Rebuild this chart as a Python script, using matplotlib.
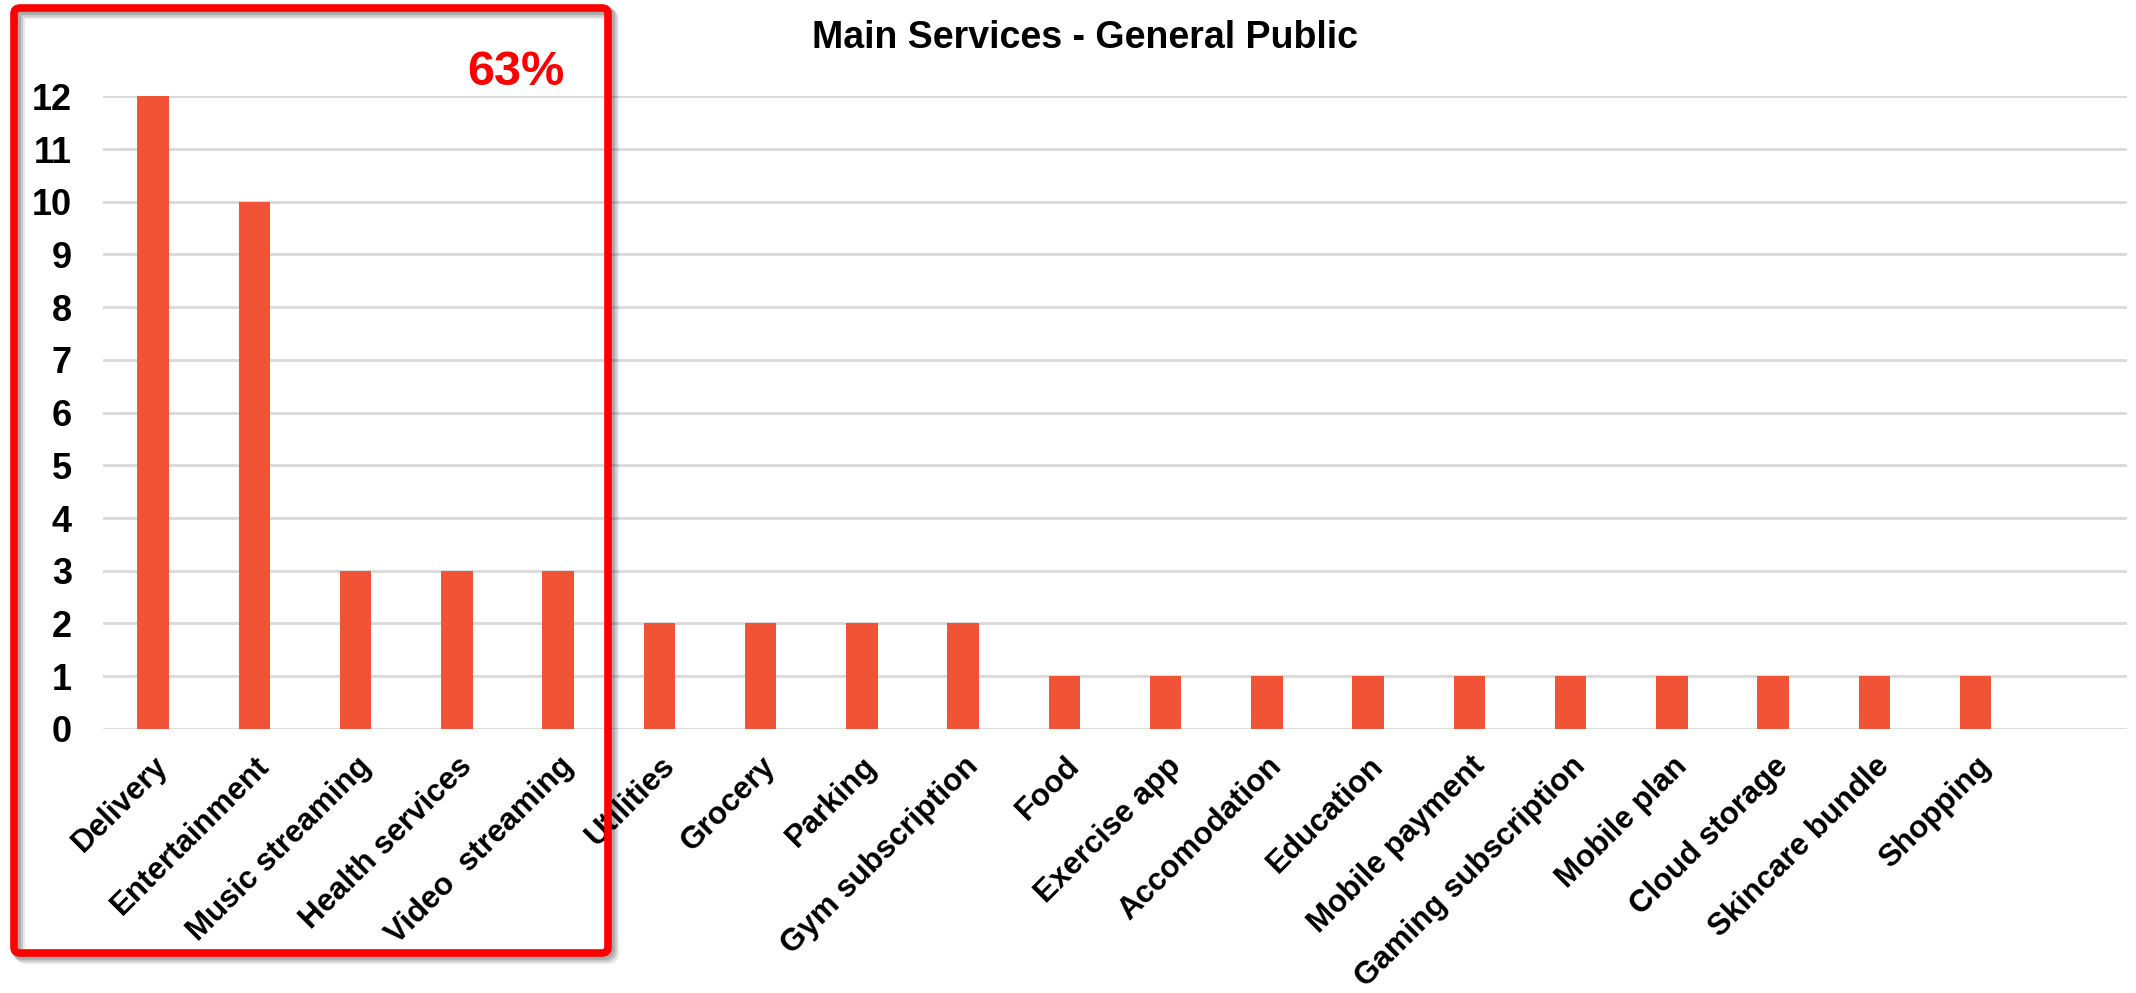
import matplotlib.pyplot as plt
from matplotlib.patches import FancyBboxPatch
from matplotlib.transforms import ScaledTranslation

categories = ["Delivery", "Entertainment", "Music streaming", "Health services",
              "Video  streaming", "Utilities", "Grocery", "Parking",
              "Gym subscription", "Food", "Exercise app", "Accomodation",
              "Education", "Mobile payment", "Gaming subscription", "Mobile plan",
              "Cloud storage", "Skincare bundle", "Shopping"]
counts = [12, 10, 3, 3, 3, 2, 2, 2, 2, 1, 1, 1, 1, 1, 1, 1, 1, 1, 1]
yticks = list(range(0, 13))
title = "Main Services - General Public"
highlight = "63%"

plt.rcParams['font.family'] = ['Liberation Sans', 'DejaVu Sans']

fig = plt.figure(figsize=(21.36, 9.93), dpi=100)
ax = fig.add_axes([0.048, 0.266, 0.948, 0.637])

x = range(len(categories))
ax.bar(x, counts, width=0.31, color="#F05336", zorder=3)

ax.set_xlim(-0.5, len(categories) + 0.5)
ax.set_ylim(0, 12)
ax.set_yticks(yticks)
ax.set_yticklabels([str(t) for t in yticks], fontsize=26, fontweight="bold")
ax.set_xticks(list(x))
ax.set_xticklabels(categories, rotation=45, ha="right", rotation_mode="anchor",
                   fontsize=22.5, fontweight="bold")
# nudge the slanted labels a little to the left
shift = ScaledTranslation(-6 / 100, 0, fig.dpi_scale_trans)
for lbl in ax.get_xticklabels():
    lbl.set_transform(lbl.get_transform() + shift)
ax.tick_params(axis="both", length=0)
ax.tick_params(axis="y", pad=22)
ax.tick_params(axis="x", pad=16)
ax.grid(axis="y", color="#D9D9D9", linewidth=2, zorder=0)
for s in ax.spines.values():
    s.set_visible(False)

fig.text(0.508, 0.962, title, ha="center", va="center",
         fontsize=27, fontweight="bold")

# red frame around the top five services, with a soft shadow
for off, a in [(6, 0.10), (4, 0.12), (2, 0.15)]:
    sh = FancyBboxPatch((14 + off, 40 - off), 594, 945, boxstyle="round,pad=0,rounding_size=6",
                        transform=None, fill=False, edgecolor="black", alpha=a,
                        linewidth=7)
    fig.patches.append(sh)
box = FancyBboxPatch((14, 40), 594, 945, boxstyle="round,pad=0,rounding_size=6",
                     transform=None, fill=False, edgecolor="#FF0000", linewidth=5.5)
fig.patches.append(box)
fig.text(516 / 2136, 1 - 72 / 993, highlight, ha="center", va="center",
         fontsize=35, fontweight="bold", color="#FF0000")

fig.savefig("out.png", dpi=100)
